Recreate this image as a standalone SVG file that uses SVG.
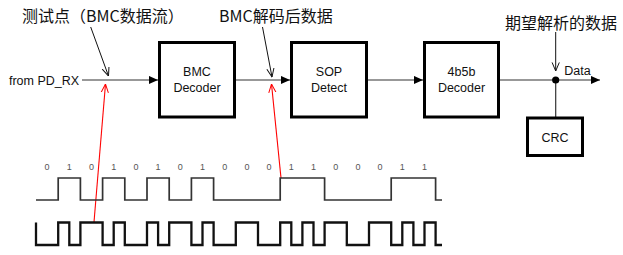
<svg xmlns="http://www.w3.org/2000/svg" width="623" height="255" viewBox="0 0 623 255">
<style>
.box{fill:#fff;stroke:#000;stroke-width:3}
.lbl{font-family:"Liberation Sans",Arial,sans-serif;font-size:12.5px;fill:#111;text-anchor:middle}
.cn{font-family:"Noto Sans CJK SC",sans-serif;font-size:16px;fill:#111}
.bit{font-family:"Liberation Sans",Arial,sans-serif;font-size:9px;fill:#555;text-anchor:middle}
.wire{fill:none;stroke:#333;stroke-width:1.2}
.ptr{fill:none;stroke:#111;stroke-width:1}
.red{fill:none;stroke:#f00;stroke-width:1.1}
</style>
<defs>
<marker id="fa" viewBox="0 0 10 10" refX="10" refY="5" markerWidth="9" markerHeight="9" markerUnits="userSpaceOnUse" orient="auto"><path d="M0,0.5 L10,5 L0,9.5z" fill="#000"/></marker>
<marker id="ob" viewBox="0 0 10 10" refX="9.5" refY="5" markerWidth="9" markerHeight="9" markerUnits="userSpaceOnUse" orient="auto"><path d="M0,1 L9.5,5 L0,9" fill="none" stroke="#111" stroke-width="1.1"/></marker>
<marker id="or" viewBox="0 0 10 10" refX="9.5" refY="5" markerWidth="9" markerHeight="9" markerUnits="userSpaceOnUse" orient="auto"><path d="M0,1 L9.5,5 L0,9" fill="none" stroke="#f00" stroke-width="1.1"/></marker>
</defs>
<rect width="623" height="255" fill="#fff"/>
<g id="connectors">
<path class="wire" d="M82,80 H158" marker-end="url(#fa)"/>
<path class="wire" d="M236,80 H290" marker-end="url(#fa)"/>
<path class="wire" d="M368,80 H423" marker-end="url(#fa)"/>
<path class="wire" d="M499,80 H600" marker-end="url(#fa)"/>
<path class="wire" d="M555.7,80 V117"/>
<circle cx="555.7" cy="80" r="3.6" fill="#000"/>
<path class="ptr" d="M90.7,27 L108.5,76" marker-end="url(#ob)"/>
<path class="ptr" d="M262.5,27 L272,77" marker-end="url(#ob)"/>
<path class="ptr" d="M555.7,32 V71" marker-end="url(#ob)"/>
<path class="red" d="M94,222 L105.5,84" marker-end="url(#or)"/>
<path class="red" d="M281,178 L271.5,84" marker-end="url(#or)"/>
</g>
<g id="input"><text class="lbl" x="44" y="84.5">from PD_RX</text></g>
<g id="bmc"><rect class="box" x="159.5" y="42.5" width="75" height="74.5"/><text class="lbl" x="197" y="76">BMC</text><text class="lbl" x="197" y="92">Decoder</text></g>
<g id="sop"><rect class="box" x="291.5" y="42.5" width="75" height="74.5"/><text class="lbl" x="329" y="76">SOP</text><text class="lbl" x="329" y="92">Detect</text></g>
<g id="dec4b5b"><rect class="box" x="424.5" y="42.5" width="74" height="74.5"/><text class="lbl" x="461.5" y="76">4b5b</text><text class="lbl" x="461.5" y="92">Decoder</text></g>
<g id="crc"><rect class="box" x="527.5" y="118" width="55" height="37.5"/><text class="lbl" x="555" y="141.5">CRC</text></g>
<g id="data"><text class="lbl" x="577.5" y="75">Data</text></g>
<g id="labels">
<text class="cn" x="22" y="21.5">测试点（BMC数据流）</text>
<text class="cn" x="219" y="21.5">BMC解码后数据</text>
<text class="cn" x="505" y="28.5">期望解析的数据</text>
</g>
<g id="bits">
<text class="bit" x="47.1" y="170">0</text><text class="bit" x="69.3" y="170">1</text><text class="bit" x="91.5" y="170">0</text><text class="bit" x="113.7" y="170">1</text><text class="bit" x="135.9" y="170">0</text><text class="bit" x="158.1" y="170">1</text><text class="bit" x="180.3" y="170">0</text><text class="bit" x="202.5" y="170">1</text><text class="bit" x="224.7" y="170">0</text><text class="bit" x="246.9" y="170">0</text><text class="bit" x="269.1" y="170">0</text><text class="bit" x="291.3" y="170">1</text><text class="bit" x="313.5" y="170">1</text><text class="bit" x="335.7" y="170">0</text><text class="bit" x="357.9" y="170">0</text><text class="bit" x="380.1" y="170">0</text><text class="bit" x="402.3" y="170">1</text><text class="bit" x="424.5" y="170">1</text>
</g>
<g id="waveforms">
<path d="M36,200 H58.2 V178 H80.4 V200 H102.6 V178 H124.8 V200 H147 V178 H169.2 V200 H191.4 V178 H213.6 V200 H280.2 V178 H324.6 V200 H391.2 V178 H435.6 V200 H442" fill="none" stroke="#333" stroke-width="1.7"/>
<path d="M36,222.5 V245 H58.2 V222.5 H69.3 V245 H80.4 V222.5 H102.6 V245 H113.7 V222.5 H124.8 V245 H147 V222.5 H158.1 V245 H169.2 V222.5 H191.4 V245 H202.5 V222.5 H213.6 V245 H235.8 V222.5 H258 V245 H280.2 V222.5 H291.3 V245 H302.4 V222.5 H313.5 V245 H324.6 V222.5 H346.8 V245 H369 V222.5 H391.2 V245 H402.3 V222.5 H413.4 V245 H424.5 V222.5 H435.6 V245 H442" fill="none" stroke="#111" stroke-width="2.3"/>
</g>
</svg>
